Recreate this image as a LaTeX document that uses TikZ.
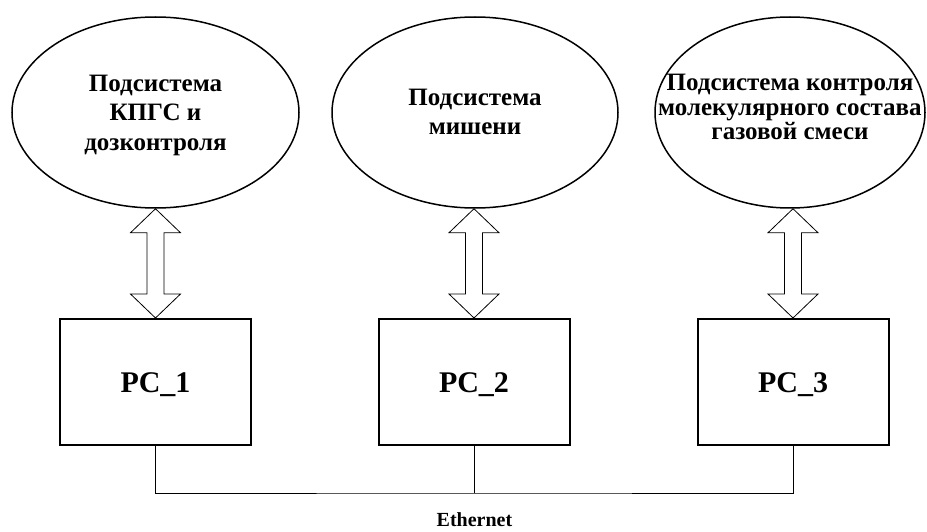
\documentclass[tikz,border=0pt]{standalone}
\usepackage{fontspec}
\setmainfont{Liberation Serif}
\usetikzlibrary{shapes.geometric,calc}
\begin{document}
\begin{tikzpicture}[x=1pt,y=-1pt,
  subsys/.style={draw,ellipse,line width=1.5pt,inner sep=0pt,minimum height=191pt},
  subtext/.style={align=center,inner sep=0pt,font=\bfseries\fontsize{25}{29.5}\selectfont},
  pcbox/.style={draw,rectangle,line width=2pt,inner sep=0pt,minimum width=191pt,minimum height=126pt,
    font=\bfseries\fontsize{30}{36}\selectfont,text height=20pt,text depth=0pt},
  dblarrow/.style={draw,line width=0.8pt,fill=white,line join=miter},
  bus/.style={draw,line width=1pt}]
\useasboundingbox (0,0) rectangle (927,532);
% subsystems
\node[subsys,minimum width=287pt] (e1) at (155.5,112.5) {};
\node[subsys,minimum width=286pt] (e2) at (475,112.5) {};
\node[subsys,minimum width=270pt] (e3) at (790,112.5) {};
\node[subtext] (t1) at (155.5,115) {Подсистема\\КПГС и\\дозконтроля};
\node[subtext] (t2) at (475,112) {Подсистема\\мишени};
\node[subtext,font=\bfseries\fontsize{25}{24.5}\selectfont] (t3) at (790,107) {Подсистема контроля\\молекулярного состава\\газовой смеси};
% computers
\node[pcbox] (b1) at (155.5,382) {PC\_1};
\node[pcbox] (b2) at (474,382) {PC\_2};
\node[pcbox] (b3) at (793,382) {PC\_3};
% double arrows
\foreach \e/\b in {e1/b1,e2/b2,e3/b3}{
  \coordinate (T) at (\b.north |- \e.south);
  \coordinate (B) at (\b.north);
  \draw[dblarrow] (T) -- ($(T)+(25,24)$) -- ($(T)+(8.5,24)$) -- ($(B)+(8.5,-24)$) -- ($(B)+(25,-24)$)
    -- (B) -- ($(B)+(-25,-24)$) -- ($(B)+(-8.5,-24)$) -- ($(T)+(-8.5,24)$) -- ($(T)+(-25,24)$) -- cycle;
}
% ethernet bus
\coordinate (bus) at (474,493);
\draw[bus] (b1.south) |- (bus) -| (b3.south);
\draw[bus] (b2.south) -- (bus);
\node[anchor=base,inner sep=0pt,font=\bfseries\fontsize{20}{24}\selectfont] (eth) at (474.5,526) {Ethernet};
\end{tikzpicture}
\end{document}
